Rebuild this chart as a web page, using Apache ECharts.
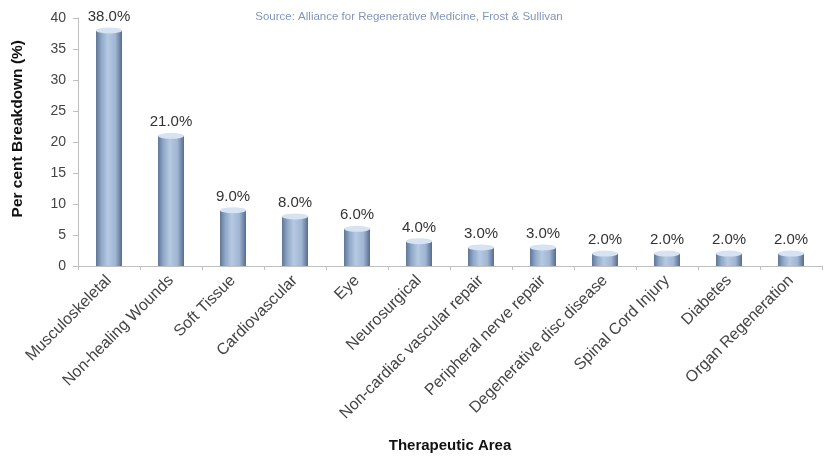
<!DOCTYPE html>
<html>
<head>
<meta charset="utf-8">
<script src="https://cdn.jsdelivr.net/npm/echarts@6/dist/echarts.min.js"></script>
<style>
  html, body { margin: 0; padding: 0; background: #fff; }
  #chart { width: 825px; height: 458px; }
</style>
</head>
<body>
<div id="chart"></div>
<script>
// Therapeutic areas and their share of the regenerative medicine pipeline
const categories = [
  'Musculoskeletal', 'Non-healing Wounds', 'Soft Tissue', 'Cardiovascular', 'Eye',
  'Neurosurgical', 'Non-cardiac vascular repair', 'Peripheral nerve repair',
  'Degenerative disc disease', 'Spinal Cord Injury', 'Diabetes', 'Organ Regeneration'
];
const shares = [38, 21, 9, 8, 6, 4, 3, 3, 2, 2, 2, 2];
const yTicks = [0, 5, 10, 15, 20, 25, 30, 35, 40];

const font = 'Liberation Sans, Arial, sans-serif';
const chart = echarts.init(document.getElementById('chart'));

const barFill = new echarts.graphic.LinearGradient(0, 0, 1, 0, [
  { offset: 0, color: '#5f7697' },
  { offset: 0.2, color: '#8fa7c6' },
  { offset: 0.45, color: '#b5c9e2' },
  { offset: 0.75, color: '#9fb5d2' },
  { offset: 1, color: '#556c8c' }
]);

chart.setOption({
  animation: false,
  title: {
    text: 'Source: Alliance for Regenerative Medicine, Frost & Sullivan',
    left: 404, top: 6, textAlign: 'center',
    textStyle: { fontSize: 11.5, fontWeight: 'normal', color: '#8196b9', fontFamily: font }
  },
  graphic: [{
    // y-axis title, placed a little above the plot's mid-height
    type: 'text',
    left: 10, top: 40,
    rotation: Math.PI / 2,
    originX: 0, originY: 0,
    style: {
      text: 'Per cent Breakdown (%)',
      fontSize: 15.5, fontWeight: 'bold', fill: '#111', fontFamily: font
    }
  }],
  grid: { left: 78, right: 3, top: 18, bottom: 192, outerBoundsMode: 'none', containLabel: false },
  xAxis: {
    type: 'category',
    data: categories,
    name: 'Therapeutic Area',
    nameLocation: 'middle',
    nameGap: 172,
    nameTextStyle: { fontSize: 15, fontWeight: 'bold', color: '#111', fontFamily: font },
    axisLine: { lineStyle: { color: '#bfbfbf' } },
    axisTick: { show: true, length: 4, lineStyle: { color: '#bfbfbf' } },
    axisLabel: { rotate: 45, fontSize: 16, color: '#444', fontFamily: font, margin: 12 }
  },
  yAxis: {
    type: 'value',
    min: yTicks[0], max: yTicks[yTicks.length - 1], interval: 5,
    axisLine: { show: true, lineStyle: { color: '#bfbfbf' } },
    axisTick: { show: true, length: 5, lineStyle: { color: '#bfbfbf' } },
    axisLabel: { fontSize: 14, color: '#444', fontFamily: font, margin: 12 },
    splitLine: { show: false }
  },
  series: [
    {
      type: 'bar',
      data: shares,
      barWidth: 26,
      itemStyle: { color: barFill },
      label: {
        show: true, position: 'top', distance: 6,
        formatter: p => p.value.toFixed(1) + '%',
        fontSize: 15, color: '#333', fontFamily: font
      },
      z: 2
    },
    {
      // light elliptical cap on each bar
      type: 'pictorialBar',
      data: shares,
      symbol: 'circle',
      symbolSize: [26, 6],
      symbolPosition: 'end',
      symbolOffset: [0, '-50%'],
      itemStyle: { color: '#d6e3f2' },
      z: 3,
      silent: true
    }
  ]
});
</script>
</body>
</html>
